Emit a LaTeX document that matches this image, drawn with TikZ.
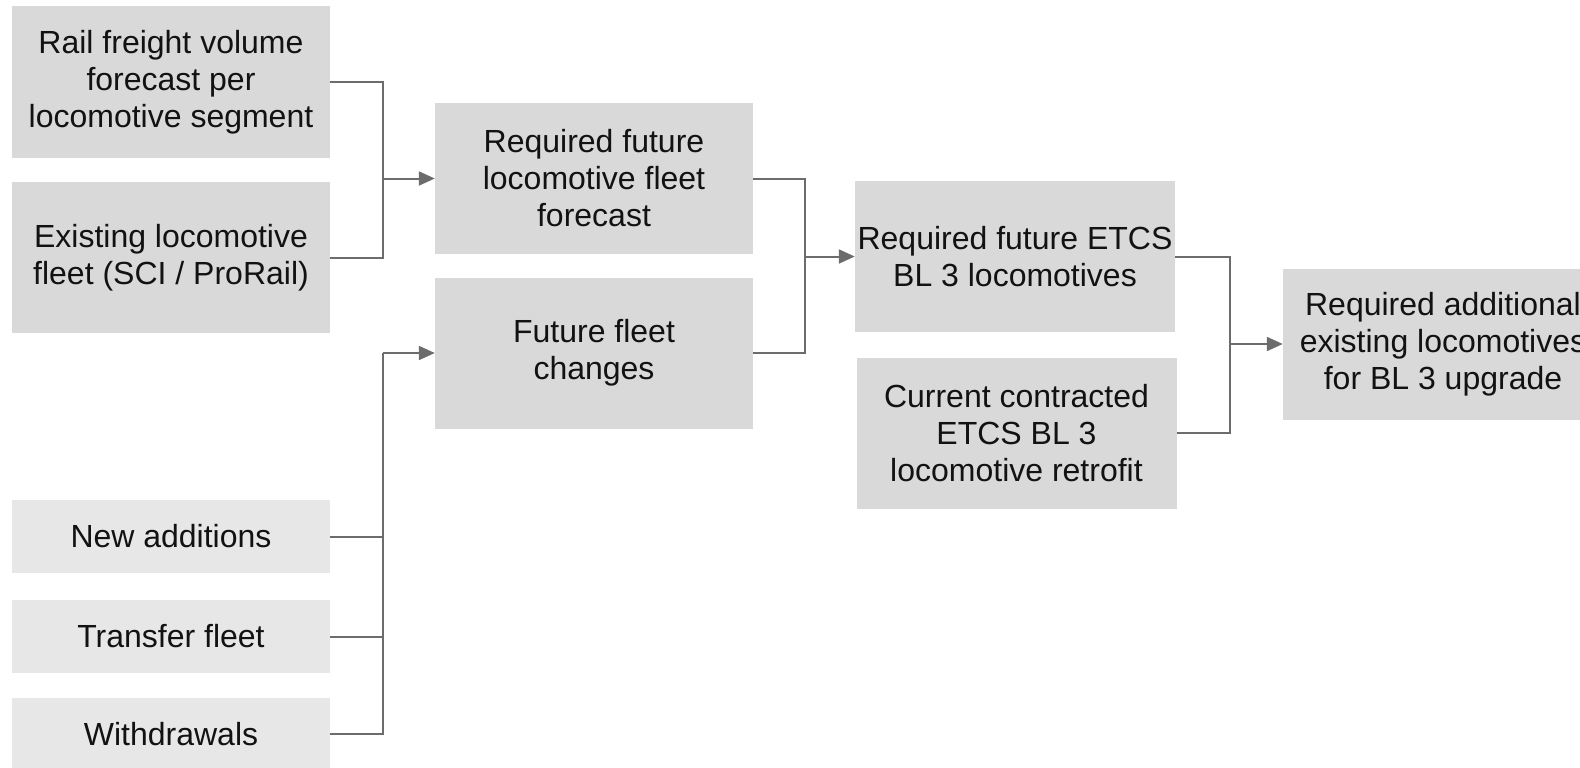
\documentclass[tikz,border=0pt]{standalone}
\usepackage{fontspec}
\setmainfont{Liberation Sans}
\usetikzlibrary{arrows.meta,positioning}
\definecolor{boxgray}{RGB}{217,217,217}
\definecolor{boxlight}{RGB}{231,231,231}
\definecolor{linegray}{RGB}{108,108,108}
\definecolor{txt}{RGB}{18,18,18}

\begin{document}
\begin{tikzpicture}[
      x=1pt, y=-1pt,
      box/.style={fill=boxgray,minimum width=318pt,minimum height=151pt,align=center,
        text=txt,font=\fontsize{32pt}{37pt}\selectfont,inner sep=0pt},
      small/.style={box,fill=boxlight,minimum height=73pt},
      link/.style={draw=linegray,line width=2pt},
      go/.style={link,-{Triangle[length=16pt,width=14pt]}},
    ]
    \useasboundingbox (0,0) rectangle (1580,768);
    \clip (0,0) rectangle (1580,768);

    % inputs
    \node[box] (volume) at (171,82) {Rail freight volume\\forecast per\\locomotive segment};
    \node[box] (existing) at (171,257.5) {Existing locomotive\\fleet (SCI / ProRail)};
    \node[small] (additions) at (171,536.5) {New additions};
    \node[small] (transfer) at (171,636.5) {Transfer fleet};
    \node[small] (withdraw) at (171,734) {Withdrawals};

    % middle columns
    \node[box] (fleetfc) at (594,178.5) {Required future\\locomotive fleet\\forecast};
    \node[box] (changes) at (594,353) {Future fleet\\changes};
    \node[box,minimum width=320pt] (etcs) at (1015,256.5) {Required future ETCS\\BL 3 locomotives};
    \node[box,minimum width=320pt] (retrofit) at (1016.5,433) {Current contracted\\ETCS BL 3\\locomotive retrofit};
    \node[box,minimum width=320pt] (upgrade) at (1443,344) {Required additional\\existing locomotives\\for BL 3 upgrade};

    \coordinate (j1) at (383,178.5);
    \coordinate (j2) at (383,353);
    \coordinate (j3) at (805,256.5);
    \coordinate (j4) at (1230,344);

    \draw[link] (volume.east) -| (j1);
    \draw[link] (existing.east) -| (j1);
    \draw[go] (j1) -- (fleetfc.west);

    \foreach \n in {additions,transfer,withdraw} {
      \draw[link] (\n.east) -| (j2);
    }
    \draw[go] (j2) -- (changes.west);

    \draw[link] (fleetfc.east) -| (j3);
    \draw[link] (changes.east) -| (j3);
    \draw[go] (j3) -- (etcs.west);

    \draw[link] (etcs.east) -| (j4);
    \draw[link] (retrofit.east) -| (j4);
    \draw[go] (j4) -- (upgrade.west);
  \end{tikzpicture}
\end{document}
